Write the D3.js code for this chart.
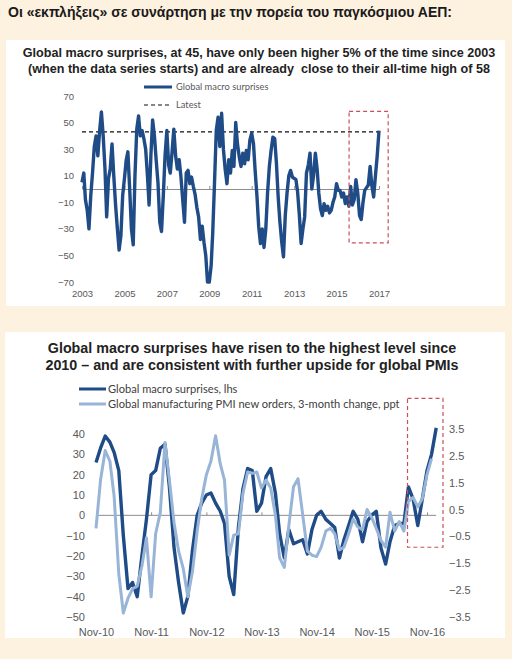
<!DOCTYPE html>
<html>
<head>
<meta charset="utf-8">
<script src="https://cdn.jsdelivr.net/npm/d3@7"></script>
<style>
  body { margin: 0; background: #fdf1df; }
  svg { display: block; font-family: Lato, "Open Sans", sans-serif; }
</style>
</head>
<body>
<svg id="chart" width="512" height="659"></svg>
<script>
// ---- data: top chart (monthly, Jan 2003 - Jan 2017) ----
const topStart = new Date(2003, 0, 1);
const topSurprises = [
  5, 12, -8, -16, -30, -5, 12, 32, 40, 25, 44, 58,
  40, 15, -21, 8, 15, 34, 10, -12, -30, -46, -35, -5,
  8, 22, 28, 0, -30, -42, 10, 45, 55, 40, 44, 38,
  30, 10, -12, 25, 52, 40, 22, 5, -25, -32, -5, 25,
  44, 18, 12, 28, 45, 25, 15, 22, 9, -8, -25, 12,
  14, 4, 9, 2, -4, -14, -21, -38, -28, -40, -50, -70,
  -70, -58, -33, 5, 44, 54, 32, 57, 30, 15, 4, 22,
  12, 29, 17, 50, 34, 24, 17, 27, 19, 29, 22, 37,
  42, 34, 14, -5, -28, -41, -30, -44, -30, -3, 17, 29,
  39, 38, 20, -6, -25, -40, -51, -20, -3, 10, 14, 9,
  8, 7, -2, -20, -41, -30, -21, 12, 18, 27, 0, 10,
  27, 15, -3, -15, -20, -11, -16, -13, -18, -16, -10, -6,
  4, -1, -1, -6, -3, -11, -6, -13, 2, -12, -8, 7,
  -3, -20, -23, -10, -1, 1, 3, 17, 2, -6, 10, 25,
  44
];
const topLatest = 43;
const topYTicks = [70, 50, 30, 10, -10, -30, -50, -70];
const topXYears = [2003, 2005, 2007, 2009, 2011, 2013, 2015, 2017];
const topHighlight = { from: new Date(2015, 7, 5), to: new Date(2017, 5, 8), hi: 58.5, lo: -40.5 };

// ---- data: bottom chart (monthly, Nov 2010 - Jan 2017) ----
const botStart = new Date(2010, 10, 1);
const botSurprises = [
  26, 33, 39, 36, 31, 22, -10, -36, -33, -40, -20, -2,
  20, 22, 33, 35, 14, -16, -33, -48, -40, -17, 0, 6,
  10, 11, 6, 2, -4, -30, -39, -6, 13, 23, 22, 2,
  6, 19, 23, 11, -9, -21, -7, -14, -13, -12, -19, -7,
  0, 2, -2, -4, -6, -21, -12, -5, 2, -2, -13, -3,
  0, 2, -16, -24, -13, -5, -4, -4, 14, 8, -5, 8,
  22, 30, 43
];
const botPmi = [
  -0.2, 1.6, 2.7, 2.3, 1.0, -1.9, -3.35, -2.8, -2.45, -2.35, -1.6, -0.55,
  -2.75, -0.4, 0.4, 3.0, 1.6, 0.0, -1.05, -1.7, -2.75, -1.8, -0.3, 0.9,
  1.8, 2.3, 3.25, 2.2, 1.6, -1.2, -0.45, -0.4, 1.1, 1.9, 1.85, 1.9,
  1.3, 1.6, 1.3, 0.3, -1.3, -1.65, -0.1, 1.35, 1.65, 0.3, -1.05, -1.2,
  -1.25, -0.9, -0.3, -0.2, -0.4, -1.0, -0.9, -0.4, 0.15, -0.15, -0.25, 0.5,
  0.2, -0.2, -0.65, -0.9, 0.4, -0.3, 0.05, -0.3, 0.8, 0.95, 0.6, 0.9,
  1.8, 2.4
];
const botLeftTicks = [40, 30, 20, 10, 0, -10, -20, -30, -40, -50];
const botRightTicks = [3.5, 2.5, 1.5, 0.5, -0.5, -1.5, -2.5, -3.5];
const botXYears = [2010, 2011, 2012, 2013, 2014, 2015, 2016];
const botHighlight = { from: new Date(2016, 5, 25), to: new Date(2017, 1, 15), hi: 57.5, lo: -15.7 };

const dark = "#1f4b87", light = "#98b4d6", red = "#c9505a", gray = "#595959";

const svg = d3.select("#chart");
svg.append("rect").attr("width", 512).attr("height", 659).attr("fill", "#fdf1df");

svg.append("text")
  .attr("x", 8).attr("y", 17)
  .attr("font-family", "'Liberation Sans', Arial, sans-serif")
  .attr("font-weight", "bold").attr("font-size", 14)
  .attr("fill", "#1a1a1a")
  .text("Οι «εκπλήξεις» σε συνάρτηση με την πορεία του παγκόσμιου ΑΕΠ:");

// panels
svg.append("rect").attr("x", 6).attr("y", 40).attr("width", 499).attr("height", 266).attr("fill", "#fff");
svg.append("rect").attr("x", 5).attr("y", 332).attr("width", 500).attr("height", 306).attr("fill", "#fff");

function styleAxis(g, size) {
  g.select(".domain").remove();
  g.selectAll("text").attr("fill", gray).attr("font-size", size);
}

// ================= TOP CHART =================
const gTop = svg.append("g");
const xTop = d3.scaleTime().domain([topStart, new Date(2017, 0, 1)]).range([82, 379]);
const yTop = d3.scaleLinear().domain([-70, 70]).range([282, 96]);
const topData = topSurprises.map((v, i) => ({ date: d3.timeMonth.offset(topStart, i), v }));

gTop.selectAll("text.title")
  .data(["Global macro surprises, at 45, have only been higher 5% of the time since 2003",
         "(when the data series starts) and are already  close to their all-time high of 58"])
  .join("text")
  .attr("x", 259).attr("y", (d, i) => 56.5 + i * 16)
  .attr("text-anchor", "middle")
  .attr("font-family", "'Liberation Sans', Arial, sans-serif")
  .attr("font-weight", "bold").attr("font-size", 12.6)
  .attr("fill", "#222")
  .style("white-space", "pre")
  .text(d => d);

gTop.append("g")
  .attr("transform", "translate(74,0)")
  .call(d3.axisLeft(yTop).tickValues(topYTicks).tickSize(0).tickPadding(0))
  .call(g => styleAxis(g, 9.5));

gTop.append("g")
  .attr("transform", "translate(0,290)")
  .call(d3.axisBottom(xTop).tickValues(topXYears.map(y => new Date(y, 0, 1)))
    .tickFormat(d3.timeFormat("%Y")).tickSize(0).tickPadding(0))
  .call(g => styleAxis(g, 9.5));

// zero line with small ticks
gTop.append("g")
  .attr("transform", `translate(0,${yTop(0)})`)
  .call(d3.axisBottom(xTop).tickValues(topXYears.map(y => new Date(y, 0, 1)))
    .tickFormat("").tickSizeInner(-3).tickSizeOuter(0))
  .call(g => g.selectAll("path,line").attr("stroke", "#8c8c8c"));

gTop.append("line")
  .attr("x1", xTop(topStart)).attr("x2", xTop(topData[topData.length - 1].date))
  .attr("y1", yTop(topLatest)).attr("y2", yTop(topLatest))
  .attr("stroke", "#111").attr("stroke-width", 1.2).attr("stroke-dasharray", "4,3");

gTop.append("path")
  .datum(topData)
  .attr("fill", "none").attr("stroke", dark).attr("stroke-width", 3.4)
  .attr("stroke-linejoin", "round")
  .attr("d", d3.line().x(d => xTop(d.date)).y(d => yTop(d.v)));

gTop.append("rect")
  .attr("x", xTop(topHighlight.from)).attr("y", yTop(topHighlight.hi))
  .attr("width", xTop(topHighlight.to) - xTop(topHighlight.from))
  .attr("height", yTop(topHighlight.lo) - yTop(topHighlight.hi))
  .attr("fill", "none").attr("stroke", red).attr("stroke-width", 1.2)
  .attr("stroke-dasharray", "4,3");

// top legend
const tl = gTop.append("g").attr("font-size", 9.3).attr("fill", gray);
tl.append("line").attr("x1", 144).attr("x2", 172).attr("y1", 87).attr("y2", 87)
  .attr("stroke", dark).attr("stroke-width", 3);
tl.append("text").attr("x", 176).attr("y", 87).attr("dy", "0.35em").text("Global macro surprises");
tl.append("line").attr("x1", 144).attr("x2", 172).attr("y1", 105).attr("y2", 105)
  .attr("stroke", "#111").attr("stroke-width", 1.2).attr("stroke-dasharray", "4,3");
tl.append("text").attr("x", 176).attr("y", 105).attr("dy", "0.35em").text("Latest");

// ================= BOTTOM CHART =================
const gBot = svg.append("g");
const xBot = d3.scaleTime().domain([botStart, new Date(2016, 10, 1)]).range([96, 427]);
const yL = d3.scaleLinear().domain([-50, 40]).range([617, 434]);
const yR = d3.scaleLinear().domain([-3.5, 3.5]).range([617, 429]);
const botDark = botSurprises.map((v, i) => ({ date: d3.timeMonth.offset(botStart, i), v }));
const botLight = botPmi.map((v, i) => ({ date: d3.timeMonth.offset(botStart, i), v }));

gBot.selectAll("text.title")
  .data(["Global macro surprises have risen to the highest level since",
         "2010 \u2013 and are consistent with further upside for global PMIs"])
  .join("text")
  .attr("x", 252).attr("y", (d, i) => 352.5 + i * 17)
  .attr("text-anchor", "middle")
  .attr("font-family", "'Liberation Sans', Arial, sans-serif")
  .attr("font-weight", "bold").attr("font-size", 14.3)
  .attr("fill", "#222")
  .text(d => d);

gBot.append("g")
  .attr("transform", "translate(85,0)")
  .call(d3.axisLeft(yL).tickValues(botLeftTicks).tickSize(0).tickPadding(0))
  .call(g => styleAxis(g, 11));

gBot.append("g")
  .attr("transform", "translate(449,0)")
  .call(d3.axisRight(yR).tickValues(botRightTicks).tickFormat(d3.format(".1f")).tickSize(0).tickPadding(0))
  .call(g => styleAxis(g, 11));

gBot.append("g")
  .attr("transform", "translate(0,628)")
  .call(d3.axisBottom(xBot).tickValues(botXYears.map(y => new Date(y, 10, 1)))
    .tickFormat(d3.timeFormat("%b-%y")).tickSize(0).tickPadding(0))
  .call(g => styleAxis(g, 11));

gBot.append("line")
  .attr("x1", xBot(botStart)).attr("x2", xBot(botDark[botDark.length - 1].date))
  .attr("y1", yL(0)).attr("y2", yL(0))
  .attr("stroke", "#8c8c8c");
gBot.append("g")
  .attr("transform", `translate(0,${yL(0)})`)
  .call(d3.axisBottom(xBot).tickValues(botXYears.map(y => new Date(y, 10, 1)))
    .tickFormat("").tickSizeInner(-3).tickSizeOuter(0))
  .call(g => { g.select(".domain").remove(); g.selectAll("line").attr("stroke", "#8c8c8c"); });

gBot.append("path")
  .datum(botDark)
  .attr("fill", "none").attr("stroke", dark).attr("stroke-width", 3.4)
  .attr("stroke-linejoin", "round")
  .attr("d", d3.line().x(d => xBot(d.date)).y(d => yL(d.v)));

gBot.append("path")
  .datum(botLight)
  .attr("fill", "none").attr("stroke", light).attr("stroke-width", 3)
  .attr("stroke-linejoin", "round")
  .attr("d", d3.line().x(d => xBot(d.date)).y(d => yR(d.v)));

gBot.append("rect")
  .attr("x", xBot(botHighlight.from)).attr("y", yL(botHighlight.hi))
  .attr("width", xBot(botHighlight.to) - xBot(botHighlight.from))
  .attr("height", yL(botHighlight.lo) - yL(botHighlight.hi))
  .attr("fill", "none").attr("stroke", red).attr("stroke-width", 1.2)
  .attr("stroke-dasharray", "4,3");

// bottom legend
const bl = gBot.append("g").attr("font-size", 11.1).attr("fill", "#404040");
[["Global macro surprises, lhs", dark, 389],
 ["Global manufacturing PMI new orders, 3-month change, ppt", light, 404]].forEach(([label, c, y]) => {
  bl.append("line").attr("x1", 79).attr("x2", 106).attr("y1", y).attr("y2", y)
    .attr("stroke", c).attr("stroke-width", 3);
  bl.append("text").attr("x", 108).attr("y", y).attr("dy", "0.35em").text(label);
});
</script>
</body>
</html>
